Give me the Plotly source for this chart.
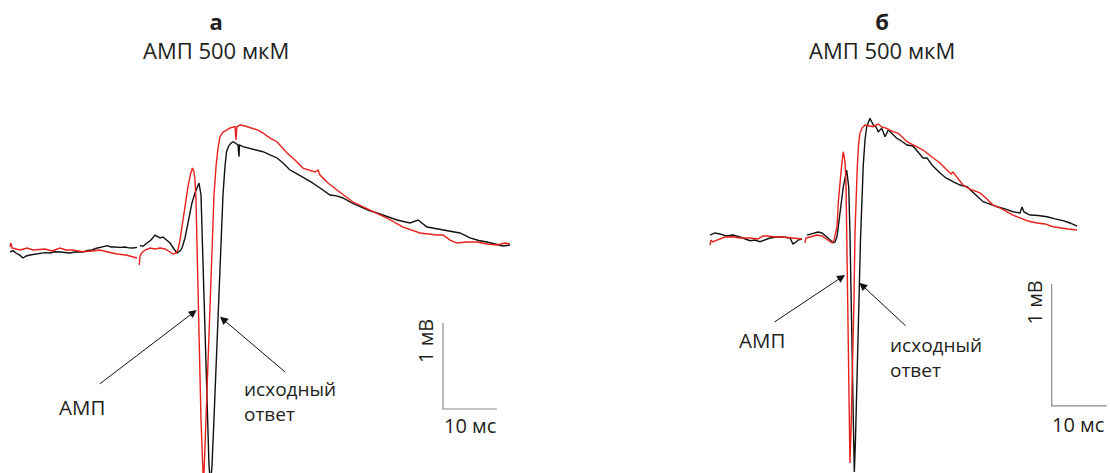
import plotly.graph_objects as go

# ---------------- data (time in ms, potential in mV) ----------------
# Panel а — black: исходный ответ, red: АМП 500 мкМ
A_BLACK_T = [
    0, 0.6, 1.11, 1.8, 2.41, 3.0, 3.70, 4.6, 5.56, 6.5,
    7.41, 8.3, 9.26, 10.2, 11.11, 12.3, 13.52, 14.4, 15.19, 16.0,
    16.67, 17.3, 17.96, 18.7, 19.44, 20.4, 21.30, 22.0, 22.78, 23.52,
    None, 24.07, 24.7, 25.37, 26.11, 26.85, 27.41, 27.78, 28.33, 28.89,
    29.63, 30.37, 30.93, 31.48, 31.85, 32.41, 32.78, 33.33, 33.70, 34.26,
    34.63, 35.00, 35.37, 35.56, 35.80, 35.98, 36.30, 36.57, 36.85, 37.13,
    37.41, 37.69, 38.06, 38.43, 38.76, 38.98, 39.20, 39.44, 39.81, 40.09,
    40.43, 40.93, 41.35, 41.85, 42.22, 42.41, 42.50, 43.15, 44.07, 45.00,
    45.93, 46.85, 48.15, 49.44, 50.56, 51.85, 53.0, 54.26, 55.8, 57.41,
    59.26, 60.5, 61.67, 63.2, 64.81, 66.4, 67.96, 69.8, 71.67, 74.07,
    75.56, 77.22, 78.7, 80.19, 81.8, 83.33, 85.19, 86.8, 88.33, 89.8,
    91.30, 92.59]
A_BLACK_V = [
    -0.02, -0.01, -0.035, -0.06, -0.093, -0.07, -0.058, -0.05, -0.047, -0.03,
    -0.035, -0.02, -0.023, -0.03, -0.035, -0.02, -0.023, -0.005, 0.0, 0.02,
    0.035, 0.04, 0.05, 0.035, 0.035, 0.03, 0.035, 0.025, 0.023, 0.03,
    None, 0.05, 0.045, 0.081, 0.116, 0.174, 0.151, 0.140, 0.151, 0.116,
    0.081, 0.012, -0.035, -0.012, 0.023, 0.140, 0.267, 0.430, 0.547, 0.663,
    0.721, 0.779, 0.640, 0.233, -0.349, -0.814, -1.512, -2.093, -2.5, -2.733,
    -2.5, -2.093, -1.512, -0.930, -0.349, 0.0, 0.198, 0.640, 0.969, 1.140,
    1.201, 1.244, 1.259, 1.233, 1.221, 1.085, 1.221, 1.201, 1.186, 1.174,
    1.163, 1.143, 1.105, 1.070, 1.012, 0.930, 0.89, 0.849, 0.79, 0.721,
    0.640, 0.63, 0.605, 0.55, 0.5, 0.46, 0.430, 0.39, 0.349, 0.314,
    0.349, 0.267, 0.25, 0.233, 0.215, 0.198, 0.140, 0.11, 0.093, 0.07,
    0.047, 0.058]

A_RED_T = [
    0, 0.19, 0.37, 1.85, 3.15, 4.26, 6.48, 7.78, 9.26, 10.37,
    11.48, 13.52, 15.19, 16.67, 18.15, 19.81, 21.48, 23.15, 23.52, None,
    23.94, 24.07, 24.39, 25.0, 25.93, 26.85, 27.78, 28.70, 29.63, 30.19,
    30.74, 31.11, 31.48, 32.04, 32.50, 32.96, 33.43, 33.80, 34.07, 34.26,
    34.44, 34.57, 34.72, 34.87, 35.09, 35.37, 35.65, 35.83, 36.02, 36.30,
    36.57, 37.04, 37.31, 37.54, 37.78, 38.15, 38.52, 38.89, 39.44, 40.13,
    40.74, 41.67, 41.85, 42.0, 42.59, 43.52, 44.81, 45.93, 46.85, 48.15,
    49.44, 51.30, 52.78, 54.26, 56.48, 57.04, 57.41, 58.89, 60.56, 62.04,
    63.52, 66.67, 69.81, 72.78, 75.93, 79.07, 80.19, 81.48, 82.78, 84.63,
    86.48, 88.33, 90.19, 91.67, 92.59]
A_RED_V = [
    0.038, 0.081, 0.023, 0.0, 0.023, 0.0, 0.012, -0.012, 0.023, 0.0,
    0.0, -0.02, -0.012, 0.0, -0.023, -0.047, -0.058, -0.081, -0.093, None,
    -0.174, -0.07, -0.035, 0.0, 0.023, 0.012, 0.023, 0.012, -0.023, -0.047,
    -0.035, 0.0, 0.116, 0.349, 0.581, 0.733, 0.884, 0.953, 0.907, 0.814,
    0.581, 0.198, -0.233, -0.659, -1.279, -1.977, -2.442, -2.733, -2.442, -1.977,
    -1.395, -0.733, -0.233, 0.198, 0.640, 0.969, 1.186, 1.317, 1.372, 1.395,
    1.419, 1.434, 1.279, 1.430, 1.453, 1.442, 1.419, 1.395, 1.360, 1.302,
    1.259, 1.128, 1.047, 0.953, 0.907, 0.930, 0.872, 0.779, 0.698, 0.628,
    0.558, 0.465, 0.372, 0.267, 0.198, 0.174, 0.174, 0.116, 0.081, 0.093,
    0.093, 0.070, 0.058, 0.081, 0.070]

# Panel б
B_BLACK_T = [
    0, 0.91, 1.82, 2.91, 4.18, 5.45, 7.27, 8.18, 9.09, 10.0,
    10.91, 12.18, 13.27, 14.55, 15.09, 15.64, 16.0, 16.73, None, 17.64,
    18.36, 19.09, 19.64, 20.36, 20.91, 21.45, 22.36, 22.73, 23.09, 23.64,
    24.24, 24.85, 25.22, 25.45, 25.64, 25.87, 26.09, 26.24, 26.45, 26.82,
    27.15, 27.36, 27.58, 27.87, 28.18, 28.49, 29.09, 29.69, 30.18, 30.60,
    31.22, 31.82, 32.42, 33.09, 33.95, 34.55, 35.82, 36.91, 37.82, 38.73,
    39.45, 40.36, 41.82, 42.91, 44.18, 45.45, 46.73, 48.18, 49.64, 50.91,
    52.18, 53.64, 55.09, 56.36, 56.73, 57.09, 58.18, 59.64, 61.27, 62.73,
    64.18, 65.45, 66.73]
B_BLACK_V = [
    0.016, 0.033, 0.025, 0.008, 0.016, 0.0, -0.030, -0.025, -0.039, -0.025,
    -0.008, 0.0, 0.0, -0.008, -0.057, -0.041, -0.025, -0.016, None, 0.016,
    0.025, 0.035, 0.041, 0.033, 0.016, -0.008, -0.047, -0.041, 0.002, 0.197,
    0.412, 0.549, 0.412, 0.033, -0.352, -1.008, -1.582, -1.926, -1.664, -1.090,
    -0.407, -0.025, 0.303, 0.590, 0.795, 0.904, 0.973, 0.918, 0.902, 0.863,
    0.891, 0.822, 0.877, 0.844, 0.809, 0.795, 0.754, 0.746, 0.697, 0.648,
    0.648, 0.590, 0.525, 0.484, 0.453, 0.426, 0.412, 0.352, 0.289, 0.270,
    0.248, 0.230, 0.207, 0.197, 0.246, 0.205, 0.180, 0.176, 0.166, 0.148,
    0.134, 0.115, 0.090]

B_RED_T = [
    0, 0.18, 0.55, 1.27, 2.73, 4.18, 5.45, 7.27, 8.73, 9.64,
    10.36, 11.82, 13.27, 14.55, 15.82, 16.73, None, 17.27, 17.45, 18.18,
    19.45, 20.36, 21.27, 22.18, 22.55, 22.73, 23.09, 23.36, 23.64, 23.91,
    24.24, 24.55, 24.73, 24.85, 25.0, 25.15, 25.31, 25.45, 25.64, 25.95,
    26.18, 26.36, 26.55, 26.78, 27.0, 27.27, 27.64, 28.18, 29.09, 29.69,
    30.55, 31.27, 32.13, 33.27, 34.24, 35.82, 37.27, 38.73, 40.36, 41.82,
    43.09, 43.82, 44.18, 44.91, 46.0, 47.27, 49.09, 50.36, 51.45, 52.73,
    54.0, 55.09, 56.36, 57.82, 59.45, 60.91, 62.36, 63.64, 65.09, 66.73]
B_RED_V = [
    -0.066, -0.025, -0.041, -0.025, 0.0, 0.002, -0.008, -0.008, -0.016, 0.008,
    0.008, 0.0, 0.0, -0.004, -0.008, -0.016, None, -0.049, -0.008, 0.0,
    0.016, 0.008, -0.019, -0.047, -0.025, 0.016, 0.084, 0.303, 0.467, 0.576,
    0.699, 0.615, 0.443, 0.033, -0.516, -1.063, -1.5, -1.852, -1.582, -1.063,
    -0.516, 0.033, 0.344, 0.576, 0.754, 0.852, 0.893, 0.918, 0.910, 0.904,
    0.926, 0.902, 0.891, 0.863, 0.850, 0.781, 0.746, 0.713, 0.656, 0.607,
    0.549, 0.516, 0.533, 0.492, 0.426, 0.393, 0.361, 0.311, 0.262, 0.238,
    0.207, 0.180, 0.156, 0.131, 0.115, 0.107, 0.084, 0.074, 0.066, 0.057]

SCALE_MS = 10   # horizontal scale bar, ms
SCALE_MV = 1    # vertical scale bar, mV

PANEL_LABELS = ["а", "б"]
PANEL_TITLE = "АМП 500 мкМ"
LBL_DRUG = "АМП"
LBL_CTRL = ["исходный", "ответ"]
LBL_MV = "1 мВ"
LBL_MS = "10 мс"

for t, v in [(A_BLACK_T, A_BLACK_V), (A_RED_T, A_RED_V),
             (B_BLACK_T, B_BLACK_V), (B_RED_T, B_RED_V)]:
    assert len(t) == len(v), (len(t), len(v))

# ---------------- layout ----------------
W, H = 1110, 473
FONT = "Open Sans"
TXT = "#231f20"
RED = "#e8201c"
BLACK = "#111111"
GREY = "#8a8a8a"

fig = go.Figure()

def tr(t, v, color, xa, ya):
    fig.add_trace(go.Scatter(x=t, y=v, mode="lines", xaxis=xa, yaxis=ya,
                             line=dict(color=color, width=1.4),
                             connectgaps=False, hoverinfo="skip"))

tr(A_BLACK_T, A_BLACK_V, BLACK, "x", "y")
tr(A_RED_T, A_RED_V, RED, "x", "y")
tr(B_BLACK_T, B_BLACK_V, BLACK, "x2", "y2")
tr(B_RED_T, B_RED_V, RED, "x2", "y2")

# scale bars (corner positions in axis units)
for (t0, v0, xa, ya) in [(80.19, -1.849, "x", "y"), (62.13, -1.385, "x2", "y2")]:
    fig.add_trace(go.Scatter(x=[t0, t0, t0 + SCALE_MS], y=[v0 + SCALE_MV, v0, v0],
                             mode="lines", xaxis=xa, yaxis=ya,
                             line=dict(color=GREY, width=1.2), hoverinfo="skip"))

# axis pixel calibration: panel a: 5.4 px/ms, 86 px/mV; panel b: 5.5 px/ms, 122 px/mV
ax_common = dict(visible=False, showgrid=False, zeroline=False, fixedrange=True)
fig.update_layout(
    width=W, height=H,
    margin=dict(l=0, r=0, t=0, b=0),
    paper_bgcolor="white", plot_bgcolor="white",
    showlegend=False,
    xaxis=dict(domain=[0, 0.5], range=[(0 - 10) / 5.4, (555 - 10) / 5.4], **ax_common),
    yaxis=dict(domain=[0, 1], anchor="x", range=[(250 - 473) / 86, 250 / 86], **ax_common),
    xaxis2=dict(domain=[0.5, 1], anchor="y2", range=[(555 - 710) / 5.5, (1110 - 710) / 5.5], **ax_common),
    yaxis2=dict(domain=[0, 1], anchor="x2", range=[(237 - 473) / 122, 237 / 122], **ax_common),
)

ann = []

def text(s, px, py, size=20, xanchor="center", angle=0, align="center"):
    ann.append(dict(text=s, x=px / W, y=1 - py / H,
                    xref="paper", yref="paper", xanchor=xanchor, yanchor="middle",
                    showarrow=False, textangle=angle, align=align,
                    font=dict(family=FONT, size=size, color=TXT)))

def arrow(xa, ya, x, y, dx, dy):
    ann.append(dict(text="", x=x, y=y, xref=xa, yref=ya, ax=dx, ay=dy,
                    showarrow=True, arrowhead=2, arrowsize=1.6, arrowwidth=1,
                    arrowcolor="#111111", standoff=0, startstandoff=0))

def header(label, px):
    return f"<b>{label}</b><br>{PANEL_TITLE}"

# panel а
text(header(PANEL_LABELS[0], 216), 216, 36, size=22)
text(LBL_DRUG, 82, 407, size=20.5)
text("<br>".join(LBL_CTRL), 242, 401, size=19, xanchor="left", align="left")
text(LBL_MV, 425, 341, angle=-90)
text(LBL_MS, 442, 425.5, xanchor="left")
arrow("x", "y", 34.57, -0.698, -98.4, 75)
arrow("x", "y", 38.89, -0.776, 66.7, 56.6)

# panel б
text(header(PANEL_LABELS[1], 882), 882, 36, size=22)
text(LBL_DRUG, 762, 340, size=20.5)
text("<br>".join(LBL_CTRL), 888, 357, size=19, xanchor="left", align="left")
text(LBL_MV, 1034, 302.5, angle=-90)
text(LBL_MS, 1050, 424, xanchor="left")
arrow("x2", "y2", 24.55, -0.311, -72, 48)
arrow("x2", "y2", 27.15, -0.375, 47.7, 44.3)

fig.update_layout(annotations=ann)
fig.write_html("out.html", config={"displayModeBar": False},
               post_script="document.body.style.margin='0px';document.body.style.overflow='hidden';")
